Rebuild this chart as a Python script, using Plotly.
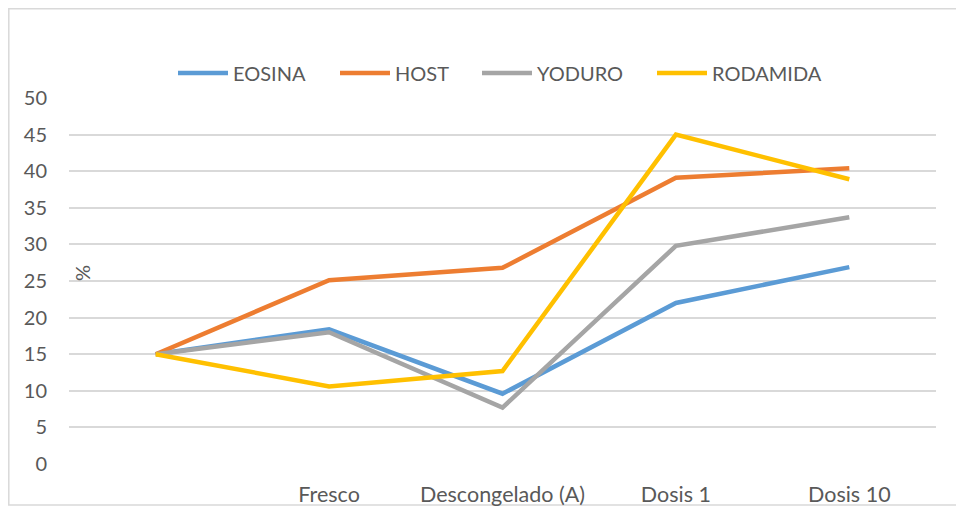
import plotly.graph_objects as go

categories = ["", "Fresco", "Descongelado (A)", "Dosis 1", "Dosis 10"]
eosina = [15.0, 18.4, 9.6, 22.0, 26.9]
host = [15.0, 25.1, 26.8, 39.1, 40.4]
yoduro = [15.0, 18.0, 7.7, 29.8, 33.7]
rodamida = [15.0, 10.6, 12.7, 45.0, 38.9]
y_ticks = [0, 5, 10, 15, 20, 25, 30, 35, 40, 45, 50]

series = [
    ("EOSINA", eosina, "#5B9BD5"),
    ("HOST", host, "#ED7D31"),
    ("YODURO", yoduro, "#A5A5A5"),
    ("RODAMIDA", rodamida, "#FFC000"),
]
legend_left_px = [173, 335, 477, 652]

FONT = "Lato"
FS = 20
W, H = 956, 506
L, R, T, B = 69, 20, 98, 42
pw, ph = W - L - R, H - T - B

def px_x(p):
    return (p - L) / pw

def px_y(p):
    return (H - B - p) / ph

xpos = list(range(len(categories)))
fig = go.Figure()
legend_layouts = {}
for i, (name, vals, col) in enumerate(series):
    lg = "legend" if i == 0 else f"legend{i + 1}"
    fig.add_trace(go.Scatter(x=xpos, y=vals, mode="lines", name=name, legend=lg,
                             line=dict(color=col, width=4.5)))
    legend_layouts[lg] = dict(orientation="h", x=px_x(legend_left_px[i]), xanchor="left",
                              y=px_y(73), yanchor="middle",
                              font=dict(family=FONT, size=FS, color="#595959"),
                              itemwidth=50, bgcolor="rgba(0,0,0,0)")

fig.update_layout(
    width=W, height=H,
    margin=dict(l=L, r=R, t=T, b=B, autoexpand=False),
    paper_bgcolor="white", plot_bgcolor="white",
    font=dict(family=FONT, size=FS, color="#595959"),
    showlegend=True,
    xaxis=dict(range=[-0.5, len(categories) - 0.5], tickvals=xpos, ticktext=categories,
               showgrid=False, zeroline=False, showline=False, ticks="",
               ticklabelstandoff=15, tickfont=dict(size=21.5)),
    yaxis=dict(range=[0, 50], tickvals=y_ticks, showgrid=True, gridcolor="#D9D9D9",
               gridwidth=1.5, zeroline=False, showline=False, ticks="",
               ticklabelstandoff=21, tickfont=dict(size=FS)),
    shapes=[dict(type="rect", xref="paper", yref="paper",
                 x0=px_x(8.8), x1=px_x(1200), y0=px_y(505), y1=px_y(8.8),
                 line=dict(color="#D9D9D9", width=1.5), fillcolor="rgba(0,0,0,0)",
                 layer="below")],
    annotations=[dict(text="%", textangle=-90, xref="paper", yref="paper",
                      x=px_x(82), y=px_y(273), xanchor="center", yanchor="middle",
                      showarrow=False,
                      font=dict(family=FONT, size=FS, color="#595959"))],
    **legend_layouts,
)

fig.write_html("out.html", config={"displayModeBar": False},
               post_script="document.body.style.margin='0';document.body.style.overflow='hidden';")
